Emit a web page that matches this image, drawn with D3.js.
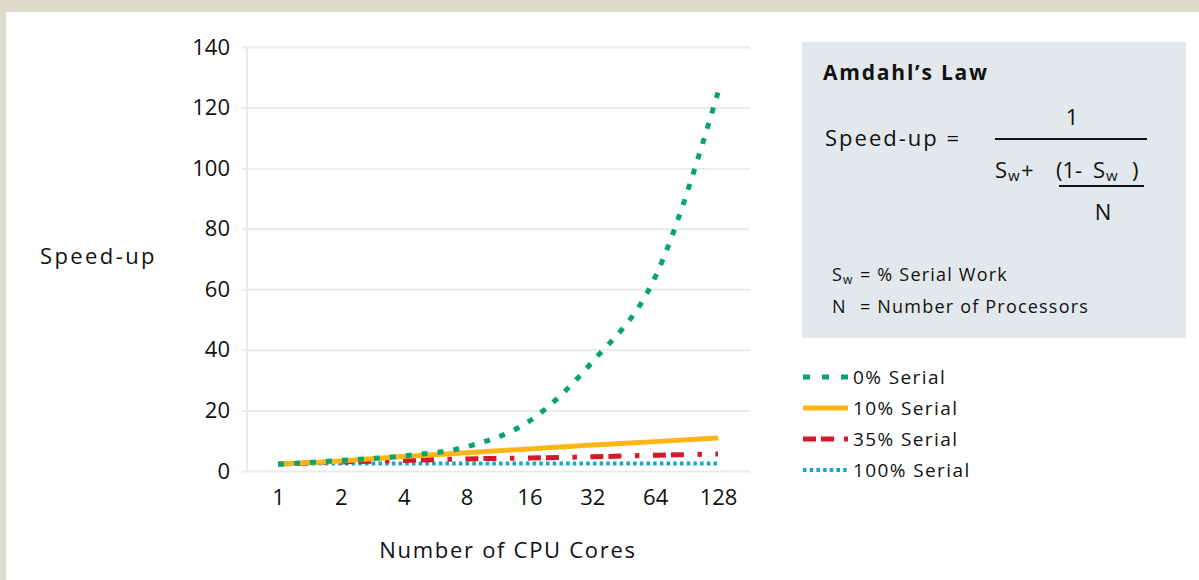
<!DOCTYPE html>
<html>
<head>
<meta charset="utf-8">
<script src="https://cdn.jsdelivr.net/npm/d3@7"></script>
<style>
  html, body { margin: 0; padding: 0; background: #dedccb; }
  #chart { width: 1199px; height: 580px; }
  text { font-family: "Open Sans", "Inter", sans-serif; fill: #111; }
</style>
</head>
<body>
<div id="chart"></div>
<script>
// Chart data
const cores = [1, 2, 4, 8, 16, 32, 64, 128];
const serial0 = [2.2, 3.5, 5, 8, 16.5, 36, 64, 125];
const serial10 = [2.3, 3.3, 4.8, 6, 7.3, 8.6, 9.7, 10.9];
const serial35 = [2.3, 3, 3.5, 4, 4.3, 4.7, 5.2, 5.6];
const serial100 = [2.5, 2.5, 2.5, 2.5, 2.5, 2.5, 2.5, 2.5];
const yTicks = [0, 20, 40, 60, 80, 100, 120, 140];
const seriesNames = ["0% Serial", "10% Serial", "35% Serial", "100% Serial"];

const series = [
  { name: seriesNames[0], values: serial0, color: "#07a46c", dash: "6,10", legendDash: "7,12", width: 5 },
  { name: seriesNames[1], values: serial10, color: "#fdb515", dash: null, legendDash: null, width: 5 },
  { name: seriesNames[2], values: serial35, color: "#d7182a", dash: "13,5,13,13.5,4.5,13.5", legendDash: "13,5,13,10,4", width: 5 },
  { name: seriesNames[3], values: serial100, color: "#14a7c9", dash: "3.5,3.2", legendDash: "3.5,3.2", width: 4 }
];

const W = 1199, H = 580;
const svg = d3.select("#chart").append("svg")
  .attr("width", W).attr("height", H);

// white card on the beige page
svg.append("rect").attr("x", 6).attr("y", 12)
  .attr("width", W - 6).attr("height", H - 12).attr("fill", "#fff");

const x = d3.scaleLog().base(2).domain([1, 128]).range([278, 718]);
const y = d3.scaleLinear().domain([0, 140]).range([471, 47]);

// y axis with gridlines
svg.append("g")
  .attr("transform", "translate(242,0)")
  .call(d3.axisLeft(y).tickValues(yTicks).tickSize(-508).tickPadding(12).tickFormat(d3.format("d")))
  .call(g => g.select(".domain").remove())
  .call(g => g.selectAll(".tick line").attr("stroke", "#e6ebef").attr("stroke-width", 2))
  .call(g => g.selectAll(".tick text").attr("font-size", 22).attr("fill", "#111")
    .style("font-family", '"Open Sans", sans-serif'));

// vertical axis line
svg.append("line")
  .attr("x1", 247).attr("x2", 247)
  .attr("y1", y(140)).attr("y2", y(0))
  .attr("stroke", "#e6ebef").attr("stroke-width", 2);

// x axis, labels only
svg.append("g")
  .attr("transform", `translate(0,${y(0)})`)
  .call(d3.axisBottom(x).tickValues(cores).tickSize(0).tickPadding(18).tickFormat(d3.format("d")))
  .call(g => g.select(".domain").remove())
  .call(g => g.selectAll(".tick text").attr("font-size", 22).attr("fill", "#111")
    .style("font-family", '"Open Sans", sans-serif'));

// axis titles
svg.append("text").attr("x", 40).attr("y", 264)
  .attr("font-size", 22).style("letter-spacing", "2.4px").text("Speed-up");
svg.append("text").attr("x", 508).attr("y", 558)
  .attr("text-anchor", "middle").attr("font-size", 22)
  .style("letter-spacing", "1.7px").text("Number of CPU Cores");

const line = d3.line()
  .x((d, i) => x(cores[i]))
  .y(d => y(d))
  .curve(d3.curveMonotoneX);

// draw flat series first so the steep one sits on top
[3, 2, 1, 0].forEach(i => {
  const s = series[i];
  svg.append("path")
    .datum(s.values)
    .attr("d", line)
    .attr("fill", "none")
    .attr("stroke", s.color)
    .attr("stroke-width", s.width)
    .attr("stroke-dasharray", s.dash);
});

// legend
const legend = svg.append("g").attr("transform", "translate(803,377)");
series.forEach((s, i) => {
  const g = legend.append("g").attr("transform", `translate(0,${i * 31})`);
  g.append("line").attr("x1", 0).attr("x2", 45)
    .attr("stroke", s.color).attr("stroke-width", s.width)
    .attr("stroke-dasharray", s.legendDash);
  g.append("text").attr("x", 50).attr("y", 7).attr("font-size", 19)
    .style("letter-spacing", "1.4px").text(s.name);
});

// Amdahl's law box
const box = svg.append("g");
box.append("rect").attr("x", 802).attr("y", 42)
  .attr("width", 384).attr("height", 296).attr("fill", "#e2e8eb");
box.append("text").attr("x", 823).attr("y", 80)
  .attr("font-size", 21).attr("font-weight", 700)
  .style("letter-spacing", "1.8px").text("Amdahl’s Law");
box.append("text").attr("x", 825).attr("y", 146)
  .attr("font-size", 22).style("letter-spacing", "2px").text("Speed-up =");
box.append("text").attr("x", 1072).attr("y", 125)
  .attr("text-anchor", "middle").attr("font-size", 22).text("1");
box.append("line").attr("x1", 995).attr("x2", 1147).attr("y1", 139).attr("y2", 139)
  .attr("stroke", "#111").attr("stroke-width", 2);

// denominator pieces
const piece = (px, py, size, str) =>
  box.append("text").attr("x", px).attr("y", py).attr("font-size", size).text(str);
piece(995, 178, 22, "S");
piece(1008, 181, 15, "w");
piece(1021, 178, 22, "+");
piece(1056, 178, 22, "(1-");
piece(1093, 178, 22, "S");
piece(1106, 181, 15, "w");
piece(1132, 178, 22, ")");

box.append("line").attr("x1", 1059).attr("x2", 1144).attr("y1", 186).attr("y2", 186)
  .attr("stroke", "#111").attr("stroke-width", 2);
box.append("text").attr("x", 1103).attr("y", 220)
  .attr("text-anchor", "middle").attr("font-size", 22).text("N");

piece(832, 281, 18, "S");
piece(843, 284, 12, "w");
box.append("text").attr("x", 860).attr("y", 281).attr("font-size", 18)
  .style("letter-spacing", "1.2px").text("= % Serial Work");
piece(832, 313, 18, "N");
box.append("text").attr("x", 860).attr("y", 313).attr("font-size", 18)
  .style("letter-spacing", "1.2px").text("= Number of Processors");
</script>
</body>
</html>
